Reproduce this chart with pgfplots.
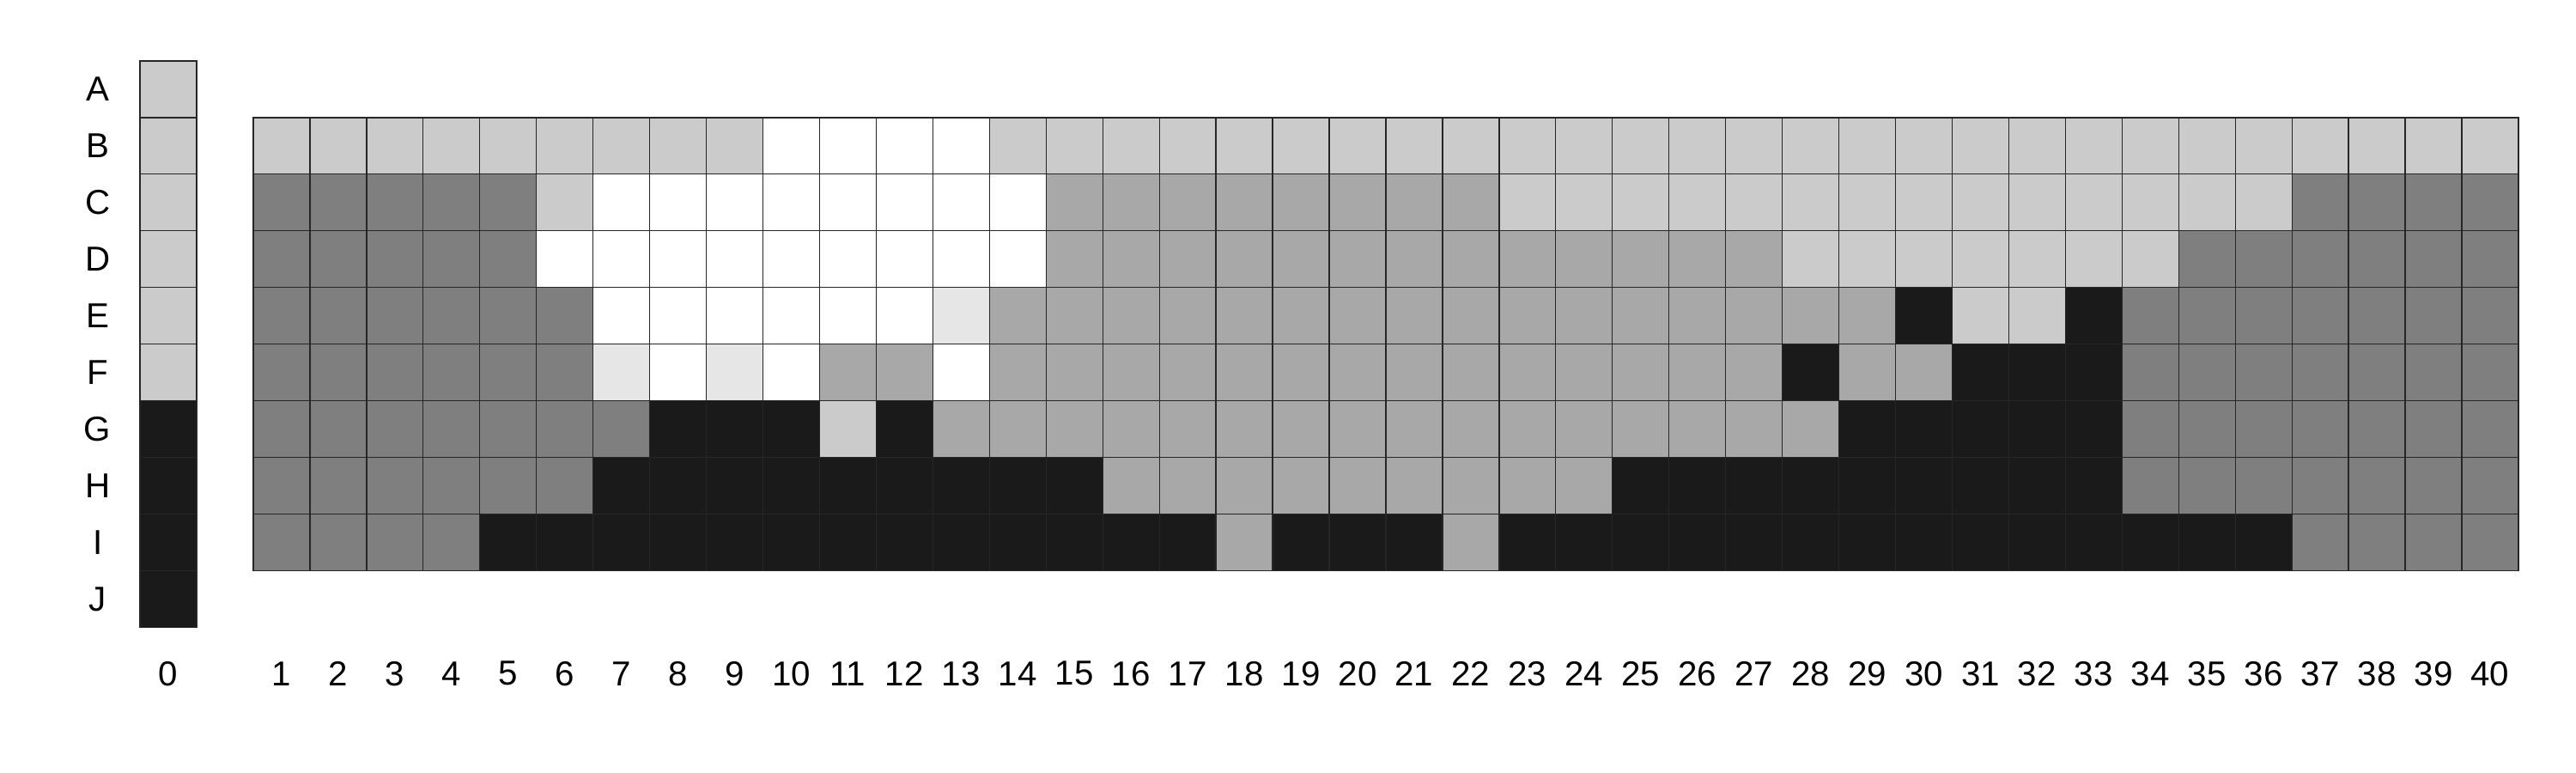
\documentclass[border=0pt]{standalone}
\usepackage{fontspec}
\setmainfont{Liberation Sans}
\usepackage{pgfplots}
\pgfplotsset{compat=1.18}
\definecolor{cW}{HTML}{FFFFFF}
\definecolor{cX}{HTML}{E6E6E6}
\definecolor{cL}{HTML}{CBCBCB}
\definecolor{cM}{HTML}{A8A8A8}
\definecolor{cD}{HTML}{7F7F7F}
\definecolor{cK}{HTML}{1A1A1A}
\begin{document}
\begin{tikzpicture}
\begin{axis}[
  x=18pt, y=18pt,
  xmin=-0.5, xmax=41.5, ymin=-0.5, ymax=9.5,
  clip=false,
  axis line style={draw=none},
  tick style={draw=none},
  major tick length=0pt,
  xtick={0,2,3,4,5,6,7,8,9,10,11,12,13,14,15,16,17,18,19,20,21,22,23,24,25,26,27,28,29,30,31,32,33,34,35,36,37,38,39,40,41},
  xticklabels={0,1,2,3,4,5,6,7,8,9,10,11,12,13,14,15,16,17,18,19,20,21,22,23,24,25,26,27,28,29,30,31,32,33,34,35,36,37,38,39,40},
  ytick={0,1,2,3,4,5,6,7,8,9},
  yticklabels={J,I,H,G,F,E,D,C,B,A},
  tick label style={font=\fontsize{11}{13}\selectfont},
  xticklabel style={anchor=center, yshift=-14.7pt},
  yticklabel style={anchor=center, xshift=-13.5pt},
  /pgf/number format/assume math mode=true,
  scatter, only marks,
  scatter src=explicit symbolic,
  mark=square*, mark size=9pt,
  mark options={draw=black!85, line width=0.35pt},
  scatter/classes={
    W={mark=square*, fill=cW, draw=black!85},
    X={mark=square*, fill=cX, draw=black!85},
    L={mark=square*, fill=cL, draw=black!85},
    M={mark=square*, fill=cM, draw=black!85},
    D={mark=square*, fill=cD, draw=black!85},
    K={mark=square*, fill=cK, draw=black!85}
  },
]
% column 0 (rows A..J)
\addplot coordinates {(0,9)[L] (0,8)[L] (0,7)[L] (0,6)[L] (0,5)[L] (0,4)[L] (0,3)[K] (0,2)[K] (0,1)[K] (0,0)[K]};
% row B
\addplot coordinates {(2,8)[L] (3,8)[L] (4,8)[L] (5,8)[L] (6,8)[L] (7,8)[L] (8,8)[L] (9,8)[L] (10,8)[L]
 (11,8)[W] (12,8)[W] (13,8)[W] (14,8)[W]
 (15,8)[L] (16,8)[L] (17,8)[L] (18,8)[L] (19,8)[L] (20,8)[L] (21,8)[L] (22,8)[L] (23,8)[L] (24,8)[L] (25,8)[L] (26,8)[L] (27,8)[L] (28,8)[L] (29,8)[L] (30,8)[L] (31,8)[L] (32,8)[L] (33,8)[L] (34,8)[L] (35,8)[L] (36,8)[L] (37,8)[L] (38,8)[L] (39,8)[L] (40,8)[L] (41,8)[L]};
% row C
\addplot coordinates {(2,7)[D] (3,7)[D] (4,7)[D] (5,7)[D] (6,7)[D]
 (7,7)[L]
 (8,7)[W] (9,7)[W] (10,7)[W] (11,7)[W] (12,7)[W] (13,7)[W] (14,7)[W] (15,7)[W]
 (16,7)[M] (17,7)[M] (18,7)[M] (19,7)[M] (20,7)[M] (21,7)[M] (22,7)[M] (23,7)[M]
 (24,7)[L] (25,7)[L] (26,7)[L] (27,7)[L] (28,7)[L] (29,7)[L] (30,7)[L] (31,7)[L] (32,7)[L] (33,7)[L] (34,7)[L] (35,7)[L] (36,7)[L] (37,7)[L]
 (38,7)[D] (39,7)[D] (40,7)[D] (41,7)[D]};
% row D
\addplot coordinates {(2,6)[D] (3,6)[D] (4,6)[D] (5,6)[D] (6,6)[D]
 (7,6)[W] (8,6)[W] (9,6)[W] (10,6)[W] (11,6)[W] (12,6)[W] (13,6)[W] (14,6)[W] (15,6)[W]
 (16,6)[M] (17,6)[M] (18,6)[M] (19,6)[M] (20,6)[M] (21,6)[M] (22,6)[M] (23,6)[M] (24,6)[M] (25,6)[M] (26,6)[M] (27,6)[M] (28,6)[M]
 (29,6)[L] (30,6)[L] (31,6)[L] (32,6)[L] (33,6)[L] (34,6)[L] (35,6)[L]
 (36,6)[D] (37,6)[D] (38,6)[D] (39,6)[D] (40,6)[D] (41,6)[D]};
% row E
\addplot coordinates {(2,5)[D] (3,5)[D] (4,5)[D] (5,5)[D] (6,5)[D] (7,5)[D]
 (8,5)[W] (9,5)[W] (10,5)[W] (11,5)[W] (12,5)[W] (13,5)[W]
 (14,5)[X]
 (15,5)[M] (16,5)[M] (17,5)[M] (18,5)[M] (19,5)[M] (20,5)[M] (21,5)[M] (22,5)[M] (23,5)[M] (24,5)[M] (25,5)[M] (26,5)[M] (27,5)[M] (28,5)[M] (29,5)[M] (30,5)[M]
 (31,5)[K] (32,5)[L] (33,5)[L] (34,5)[K]
 (35,5)[D] (36,5)[D] (37,5)[D] (38,5)[D] (39,5)[D] (40,5)[D] (41,5)[D]};
% row F
\addplot coordinates {(2,4)[D] (3,4)[D] (4,4)[D] (5,4)[D] (6,4)[D] (7,4)[D]
 (8,4)[X] (9,4)[W] (10,4)[X] (11,4)[W] (12,4)[M] (13,4)[M] (14,4)[W]
 (15,4)[M] (16,4)[M] (17,4)[M] (18,4)[M] (19,4)[M] (20,4)[M] (21,4)[M] (22,4)[M] (23,4)[M] (24,4)[M] (25,4)[M] (26,4)[M] (27,4)[M] (28,4)[M]
 (29,4)[K] (30,4)[M] (31,4)[M] (32,4)[K] (33,4)[K] (34,4)[K]
 (35,4)[D] (36,4)[D] (37,4)[D] (38,4)[D] (39,4)[D] (40,4)[D] (41,4)[D]};
% row G
\addplot coordinates {(2,3)[D] (3,3)[D] (4,3)[D] (5,3)[D] (6,3)[D] (7,3)[D] (8,3)[D]
 (9,3)[K] (10,3)[K] (11,3)[K] (12,3)[L] (13,3)[K]
 (14,3)[M] (15,3)[M] (16,3)[M] (17,3)[M] (18,3)[M] (19,3)[M] (20,3)[M] (21,3)[M] (22,3)[M] (23,3)[M] (24,3)[M] (25,3)[M] (26,3)[M] (27,3)[M] (28,3)[M] (29,3)[M]
 (30,3)[K] (31,3)[K] (32,3)[K] (33,3)[K] (34,3)[K]
 (35,3)[D] (36,3)[D] (37,3)[D] (38,3)[D] (39,3)[D] (40,3)[D] (41,3)[D]};
% row H
\addplot coordinates {(2,2)[D] (3,2)[D] (4,2)[D] (5,2)[D] (6,2)[D] (7,2)[D]
 (8,2)[K] (9,2)[K] (10,2)[K] (11,2)[K] (12,2)[K] (13,2)[K] (14,2)[K] (15,2)[K] (16,2)[K]
 (17,2)[M] (18,2)[M] (19,2)[M] (20,2)[M] (21,2)[M] (22,2)[M] (23,2)[M] (24,2)[M] (25,2)[M]
 (26,2)[K] (27,2)[K] (28,2)[K] (29,2)[K] (30,2)[K] (31,2)[K] (32,2)[K] (33,2)[K] (34,2)[K]
 (35,2)[D] (36,2)[D] (37,2)[D] (38,2)[D] (39,2)[D] (40,2)[D] (41,2)[D]};
% row I
\addplot coordinates {(2,1)[D] (3,1)[D] (4,1)[D] (5,1)[D]
 (6,1)[K] (7,1)[K] (8,1)[K] (9,1)[K] (10,1)[K] (11,1)[K] (12,1)[K] (13,1)[K] (14,1)[K] (15,1)[K] (16,1)[K] (17,1)[K] (18,1)[K]
 (19,1)[M] (20,1)[K] (21,1)[K] (22,1)[K] (23,1)[M]
 (24,1)[K] (25,1)[K] (26,1)[K] (27,1)[K] (28,1)[K] (29,1)[K] (30,1)[K] (31,1)[K] (32,1)[K] (33,1)[K] (34,1)[K] (35,1)[K] (36,1)[K] (37,1)[K]
 (38,1)[D] (39,1)[D] (40,1)[D] (41,1)[D]};
\coordinate (BBL) at (axis cs:-2.973,-3.06);
\coordinate (BTR) at (axis cs:42.517,10.576);
\end{axis}
\path (BBL) rectangle (BTR);
\end{tikzpicture}
\end{document}
